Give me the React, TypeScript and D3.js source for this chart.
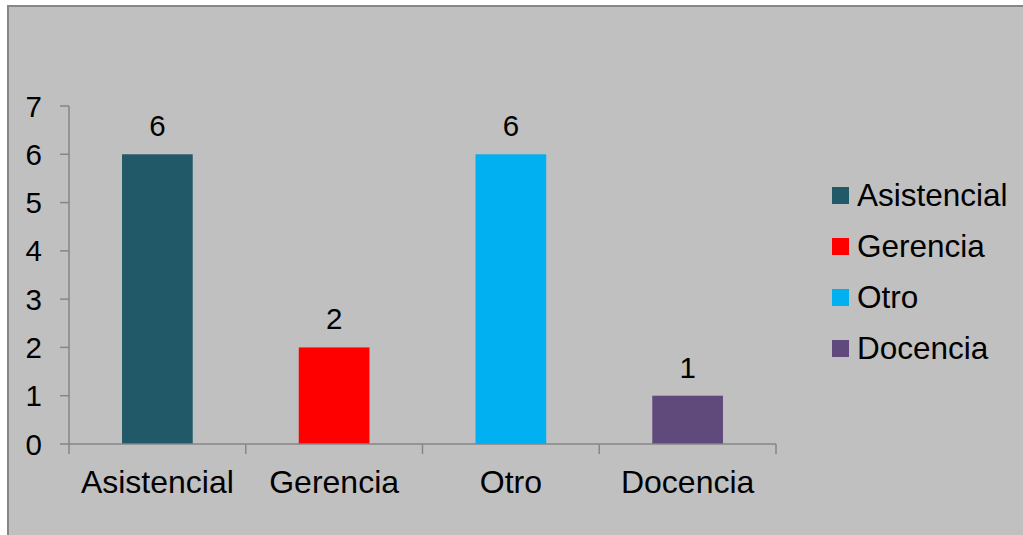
import React from "react";
import * as d3 from "d3";

const categories = ["Asistencial", "Gerencia", "Otro", "Docencia"];
const values = [6, 2, 6, 1];
const colors = ["#215968", "#FF0000", "#00B0F0", "#604A7B"];
const yTicks = [0, 1, 2, 3, 4, 5, 6, 7];

const W = 1023;
const H = 535;

export default function App() {
  const x = d3.scaleBand<string>().domain(categories).range([69, 776]).padding(0);
  const y = d3.scaleLinear().domain([0, 7]).range([444, 106]);
  const bw = x.bandwidth() * 0.4;
  const axisColor = "#868686";
  const font = "Liberation Sans, Arial, sans-serif";
  const boundaries = [...categories.map((c) => x(c) as number), 776];

  return (
    <div style={{ position: "absolute", left: 0, top: 0 }}>
      <svg width={W} height={H} style={{ display: "block" }}>
        <rect x={0} y={0} width={W} height={H} fill="#ffffff" />
        <rect x={8} y={6} width={W + 10} height={H + 10} fill="#C0C0C0" stroke={axisColor} strokeWidth={2} />
        {categories.map((c, i) => (
          <rect
            key={c}
            x={(x(c) as number) + (x.bandwidth() - bw) / 2}
            y={y(values[i])}
            width={bw}
            height={y(0) - y(values[i])}
            fill={colors[i]}
          />
        ))}
        {/* y axis */}
        <line x1={69} x2={69} y1={y(7)} y2={y(0)} stroke={axisColor} strokeWidth={1.5} />
        {yTicks.map((t) => (
          <g key={t}>
            <line x1={60} x2={69} y1={y(t)} y2={y(t)} stroke={axisColor} strokeWidth={1.5} />
            <text x={42} y={y(t)} dy="0.36em" textAnchor="end" fontFamily={font} fontSize={29.5} fill="#000">
              {t}
            </text>
          </g>
        ))}
        {/* x axis */}
        <line x1={69} x2={776} y1={y(0)} y2={y(0)} stroke={axisColor} strokeWidth={1.5} />
        {boundaries.map((b, i) => (
          <line key={i} x1={b} x2={b} y1={y(0)} y2={y(0) + 10} stroke={axisColor} strokeWidth={1.5} />
        ))}
        {categories.map((c) => (
          <text
            key={c}
            x={(x(c) as number) + x.bandwidth() / 2}
            y={493}
            textAnchor="middle"
            fontFamily={font}
            fontSize={32}
            fill="#000"
          >
            {c}
          </text>
        ))}
        {/* data labels */}
        {categories.map((c, i) => (
          <text
            key={c}
            x={(x(c) as number) + x.bandwidth() / 2}
            y={y(values[i]) - 18}
            textAnchor="middle"
            fontFamily={font}
            fontSize={29.5}
            fill="#000"
          >
            {values[i]}
          </text>
        ))}
        {/* legend */}
        {categories.map((c, i) => (
          <g key={c} transform={`translate(832, ${187 + i * 51})`}>
            <rect x={0} y={0} width={17} height={17} fill={colors[i]} />
            <text x={25} y={19} fontFamily={font} fontSize={31.5} fill="#000">
              {c}
            </text>
          </g>
        ))}
      </svg>
    </div>
  );
}
